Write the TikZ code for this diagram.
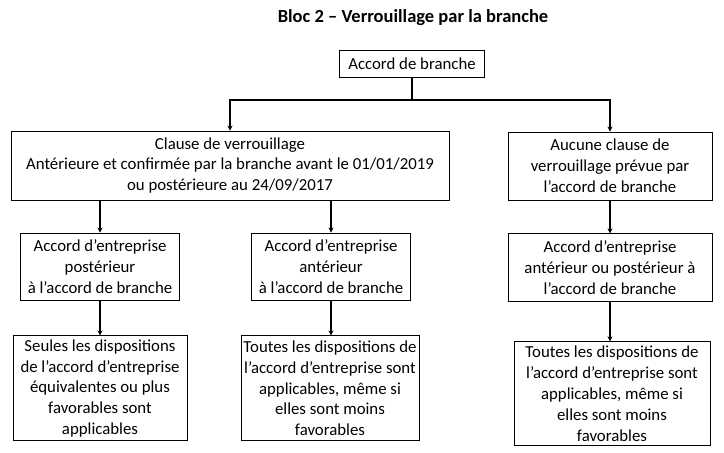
\documentclass[tikz,border=0pt]{standalone}
\usepackage{fontspec}
\setmainfont{Carlito}
\usepackage{tikz}
\usetikzlibrary{positioning, arrows.meta}

\begin{document}
\begin{tikzpicture}[x=1pt, y=-1pt, node distance=33pt,
    font=\fontsize{16.8}{20.8}\selectfont,
    box/.style={draw, line width=0.9pt, align=center, inner sep=2pt},
    link/.style={line width=2pt},
    arr/.style={link, -{Stealth[length=5pt, width=5pt]}}]
  \useasboundingbox (0,0) rectangle (724,453);
  \node[font=\fontsize{18.5}{21}\selectfont\bfseries] (title) at (413,18) {Bloc 2 – Verrouillage par la branche};
  \node[box, minimum width=145pt, minimum height=27pt] (branche) at (412,63.5) {Accord de branche};
  \coordinate[below=23pt of branche] (split);
  \node[box, minimum width=438pt, minimum height=69pt] (clause) at (230,165.5) {Clause de verrouillage\\Antérieure et confirmée par la branche avant le 01/01/2019\\ou postérieure au 24/09/2017};
  \node[box, minimum width=204pt, minimum height=68pt] (aucune) at (610,166) {Aucune clause de\\verrouillage prévue par\\l’accord de branche};
  \node[box, minimum width=159pt, minimum height=67pt] (post) at (100,266.5) {Accord d’entreprise\\postérieur\\à l’accord de branche};
  \node[box, minimum width=159pt, minimum height=67pt] (ant) at (331,266.5) {Accord d’entreprise\\antérieur\\à l’accord de branche};
  \node[box, minimum width=204pt, minimum height=68pt, below=of aucune] (antpost) {Accord d’entreprise\\antérieur ou postérieur à\\l’accord de branche};
  \node[box, minimum width=174pt, minimum height=105pt, below=35pt of post] (seules) {Seules les dispositions\\de l’accord d’entreprise\\équivalentes ou plus\\favorables sont\\applicables};
  \node[box, minimum width=178pt, minimum height=105pt, below=35pt of ant, xshift=-1pt] (toutesA) {Toutes les dispositions de\\l’accord d’entreprise sont\\applicables, même si\\elles sont moins\\favorables};
  \node[box, minimum width=196pt, minimum height=104pt, below=39pt of antpost, xshift=2pt] (toutesB) {Toutes les dispositions de\\l’accord d’entreprise sont\\applicables, même si\\elles sont moins\\favorables};

  \draw[link] (branche) -- (split);
  \draw[arr] (split) -| (clause);
  \draw[arr] (split) -| (aucune);
  \draw[arr] (clause.south -| post.north) -- (post);
  \draw[arr] (clause.south -| ant.north) -- (ant);
  \draw[arr] (aucune) -- (antpost);
  \draw[arr] (post) -- (seules);
  \draw[arr] (ant.south) -- (ant.south |- toutesA.north);
  \draw[arr] (antpost.south) -- (antpost.south |- toutesB.north);
\end{tikzpicture}
\end{document}
